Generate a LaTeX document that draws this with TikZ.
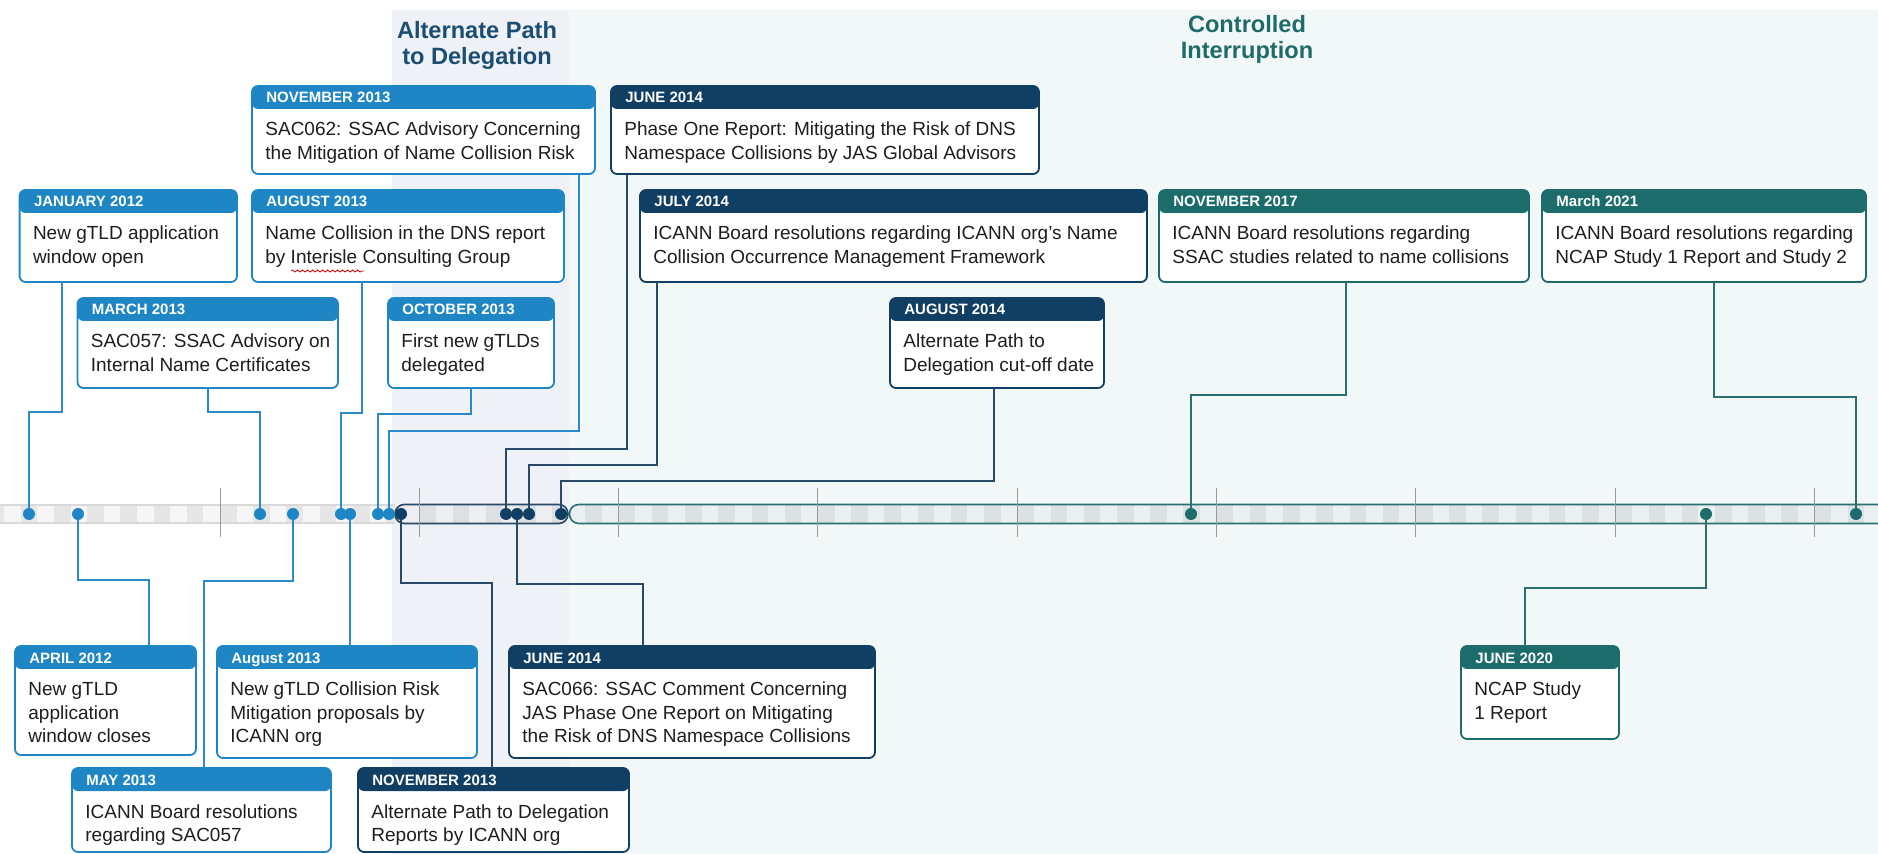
\documentclass[tikz,border=0pt]{standalone}
\usepackage{fontspec}
\setmainfont{Liberation Sans}
\usetikzlibrary{decorations.pathmorphing}
\definecolor{cblue}{HTML}{1F86C5}
\definecolor{cnavy}{HTML}{113E63}
\definecolor{cteal}{HTML}{1D6C6C}
\definecolor{lblue}{HTML}{2B8BC9}
\definecolor{lnavy}{HTML}{27496A}
\definecolor{lteal}{HTML}{2A7070}
\definecolor{altbg}{HTML}{EEF1F5}
\definecolor{ctlbg}{HTML}{F2F7F8}
\definecolor{axA}{HTML}{F6F6F6}
\definecolor{axB}{HTML}{E6E6E6}
\definecolor{axC}{HTML}{ECEEF1}
\definecolor{axD}{HTML}{DCDFE3}
\definecolor{axE}{HTML}{EAF0F1}
\definecolor{axF}{HTML}{DCE2E4}
\definecolor{txt}{HTML}{1E1E1E}
\definecolor{tnavy}{HTML}{1C4E74}
\definecolor{tteal}{HTML}{1F6B69}
\tikzset{
  evbox/.style={rectangle, rounded corners=3pt, fill=white, line width=0.9pt, inner sep=0pt, outer sep=0pt},
  evhead/.style={font=\fontsize{7.5}{9}\selectfont\bfseries, text=white, inner sep=0pt},
  evbody/.style={font=\fontsize{9.5}{11.75}\selectfont, text=txt, inner sep=0pt},
  ttl/.style={font=\fontsize{11.8}{13}\selectfont\bfseries, inner sep=0pt},
  cb/.style={draw=lblue, line width=0.8pt},
  cn/.style={draw=lnavy, line width=0.8pt},
  ct/.style={draw=lteal, line width=0.8pt},
  dotb/.style={circle, fill=cblue, inner sep=0pt, minimum size=6pt},
  dotn/.style={circle, fill=cnavy, inner sep=0pt, minimum size=6pt},
  dott/.style={circle, fill=cteal, inner sep=0pt, minimum size=6pt},
  tickln/.style={draw=black!40, line width=0.5pt}
}
\newcommand\evbox[8]{%
  \node[evbox, draw=#6, minimum width={(#4-#2)*0.5pt}, minimum height={(#5-#3)*0.5pt},
    path picture={\fill[#6] (path picture bounding box.north west) rectangle ([yshift=-11.5pt]path picture bounding box.north east);}]
    (#1) at ({(#2+#4)/2},{(#3+#5)/2}) {};
  \node[evhead, anchor=base west] (#1h) at ([shift={(14,17)}]#1.north west) {#7};
  \node[evbody, anchor=base west] (#1t) at ([shift={(13,50)}]#1.north west) {\begin{tabular}[t]{@{}l@{}}#8\end{tabular}};
}
\begin{document}
\begin{tikzpicture}[x=0.5pt,y=-0.5pt]
\useasboundingbox (0,0) rectangle (1878,854);
\fill[white] (0,0) rectangle (1878,854);
\fill[altbg] (392,10) rectangle (569,854);
\fill[ctlbg] (569,10) rectangle (1878,854);

% titles
\node[ttl, text=tnavy, anchor=base] (t1) at (477,39) {\begin{tabular}[t]{@{}c@{}}Alternate Path\\to Delegation\end{tabular}};
\node[ttl, text=tteal, anchor=base] (t2) at (1247,33) {\begin{tabular}[t]{@{}c@{}}Controlled\\Interruption\end{tabular}};

% axis: left part
\begin{scope}
  \clip (0,505) rectangle (395,523);
  \fill[axA] (0,505) rectangle (395,523);
  \foreach \k in {-1,...,12} \fill[axB] ({20.7+\k*33.22},505) rectangle ({37.3+\k*33.22},523);
\end{scope}
\draw[black!15, line width=0.6pt] (0,505) -- (395,505) (0,523) -- (395,523);
% navy capsule
\begin{scope}
  \clip[rounded corners=4.6pt] (395,504.5) rectangle (568,523.5);
  \fill[axC] (395,504.5) rectangle (568,523.5);
  \foreach \k in {5,...,18} \fill[axD] ({20.7+\k*33.22},504) rectangle ({37.3+\k*33.22},524);
\end{scope}
\draw[lnavy, line width=0.8pt, rounded corners=4.6pt] (395,504.5) rectangle (568,523.5);
% teal capsule
\begin{scope}
  \clip[rounded corners=4.6pt] (569.5,504.5) rectangle (1900,523.5);
  \fill[axE] (569.5,504.5) rectangle (1900,523.5);
  \foreach \k in {10,...,57} \fill[axF] ({20.7+\k*33.22},504) rectangle ({37.3+\k*33.22},524);
\end{scope}
\draw[lteal, line width=0.8pt, rounded corners=4.6pt] (1900,504.5) -- (569.5,504.5) -- (569.5,523.5) -- (1900,523.5);
% ticks
\foreach \t in {0,...,8} \draw[tickln] ({220+\t*199.3},488) -- ({220+\t*199.3},537);

% dot positions
\coordinate (p1) at (29,514);
\coordinate (p2) at (78,514);
\coordinate (p3) at (260,514);
\coordinate (p4) at (293,514);
\coordinate (p5) at (341,514);
\coordinate (p6) at (350,514);
\coordinate (p7) at (378,514);
\coordinate (p8) at (389,514);
\coordinate (p9) at (401,514);
\coordinate (p10) at (506,514);
\coordinate (p11) at (517,514);
\coordinate (p12) at (529,514);
\coordinate (p13) at (561,514);
\coordinate (p14) at (1191,514);
\coordinate (p15) at (1706,514);
\coordinate (p16) at (1856,514);

% boxes
\evbox{nova}{252}{86}{595}{174}{cblue}{NOVEMBER 2013}{SAC062: SSAC Advisory Concerning\\the Mitigation of Name Collision Risk}
\evbox{juna}{611}{86}{1039}{174}{cnavy}{JUNE 2014}{Phase One Report: Mitigating the Risk of DNS\\Namespace Collisions by JAS Global Advisors}
\evbox{jan}{19.6}{190}{237}{282}{cblue}{JANUARY 2012}{New gTLD application\\window open}
\evbox{auga}{252}{190}{564}{282}{cblue}{AUGUST 2013}{Name Collision in the DNS report\\by Interisle Consulting Group}
\evbox{jul}{640}{190}{1147}{282}{cnavy}{JULY 2014}{ICANN Board resolutions regarding ICANN org’s Name\\Collision Occurrence Management Framework}
\evbox{novs}{1159}{190}{1529}{282}{cteal}{NOVEMBER 2017}{ICANN Board resolutions regarding\\SSAC studies related to name collisions}
\evbox{marb}{1542}{190}{1866}{282}{cteal}{March 2021}{ICANN Board resolutions regarding\\NCAP Study 1 Report and Study 2}
\evbox{mar}{77.5}{298}{338}{388}{cblue}{MARCH 2013}{SAC057: SSAC Advisory on\\Internal Name Certificates}
\evbox{oct}{388}{298}{554}{388}{cblue}{OCTOBER 2013}{First new gTLDs\\delegated}
\evbox{augf}{890}{298}{1104}{388}{cnavy}{AUGUST 2014}{Alternate Path to\\Delegation cut-off date}
\evbox{apr}{15}{646}{196}{755}{cblue}{APRIL 2012}{New gTLD\\application\\window closes}
\evbox{augb}{217}{646}{477}{758}{cblue}{August 2013}{New gTLD Collision Risk\\Mitigation proposals by\\ICANN org}
\evbox{junb}{509}{646}{875}{758}{cnavy}{JUNE 2014}{SAC066: SSAC Comment Concerning\\JAS Phase One Report on Mitigating\\the Risk of DNS Namespace Collisions}
\evbox{junt}{1461}{646}{1619}{739}{cteal}{JUNE 2020}{NCAP Study\\1 Report}
\evbox{may}{72}{768}{331}{852}{cblue}{MAY 2013}{ICANN Board resolutions\\regarding SAC057}
\evbox{novb}{358}{768}{629}{852}{cnavy}{NOVEMBER 2013}{Alternate Path to Delegation\\Reports by ICANN org}

% spell-check underline
\draw[red!80!black, line width=0.4pt, decorate, decoration={snake, amplitude=0.5pt, segment length=2.5pt}] (291,271) -- (364,271);

% connectors
\draw[cb] (jan.south -| 62,0) |- (29,412) -- (p1);
\draw[cb] (p2) |- (149,580) -- (apr.north -| 149,0);
\draw[cb] (mar.south -| 208,0) |- (260,412) -- (p3);
\draw[cb] (p4) |- (204,581) -- (may.north -| 204,0);
\draw[cb] (auga.south -| 362,0) |- (341,413) -- (p5);
\draw[cb] (p6) -- (augb.north -| 350,0);
\draw[cb] (oct.south -| 471,0) |- (378,414) -- (p7);
\draw[cb] (nova.south -| 579,0) |- (389,431) -- (p8);
\draw[cn] (p9) |- (492,583) -- (novb.north -| 492,0);
\draw[cn] (juna.south -| 627,0) |- (506,449) -- (p10);
\draw[cn] (p11) |- (643,584) -- (junb.north -| 643,0);
\draw[cn] (jul.south -| 657,0) |- (529,465) -- (p12);
\draw[cn] (augf.south -| 994,0) |- (561,481) -- (p13);
\draw[ct] (novs.south -| 1346,0) |- (1191,395) -- (p14);
\draw[ct] (p15) |- (1525,588) -- (junt.north -| 1525,0);
\draw[ct] (marb.south -| 1714,0) |- (1856,397) -- (p16);

% dots
\foreach \i in {1,...,8} \node[dotb] (d\i) at (p\i) {};
\foreach \i in {9,...,13} \node[dotn] (d\i) at (p\i) {};
\foreach \i in {14,15,16} \node[dott] (d\i) at (p\i) {};
\end{tikzpicture}
\end{document}
